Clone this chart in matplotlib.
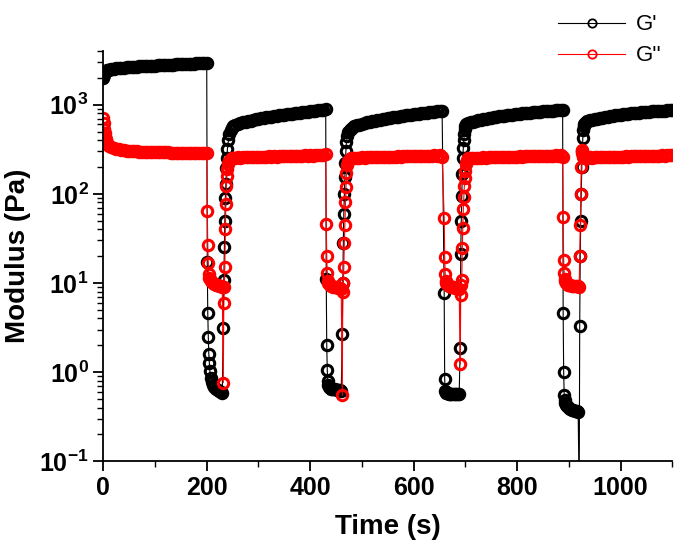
import numpy as np
import matplotlib
matplotlib.use("Agg")
import matplotlib.pyplot as plt
from matplotlib.ticker import FixedLocator, FuncFormatter, LogLocator, NullFormatter

plt.rcParams['font.family'] = ['Liberation Sans', 'DejaVu Sans']
plt.rcParams['mathtext.fontset'] = 'custom'
plt.rcParams['mathtext.rm'] = 'Liberation Sans:bold'
plt.rcParams['mathtext.bf'] = 'Liberation Sans:bold'
plt.rcParams['mathtext.it'] = 'Liberation Sans:bold'

# ---- data (time in s, modulus in Pa) ----
# first recovery (low strain)
t0 = [0, 1, 2, 3, 4, 5, 6, 8, 10, 12, 15, 20, 25, 30, 35, 40, 45, 50, 55, 60,
      65, 70, 75, 80, 85, 90, 95, 100, 105, 110, 115, 120, 125, 130, 135, 140,
      145, 150, 155, 160, 165, 170, 175, 180, 185, 190, 195, 200]
gp0 = [2000, 2150, 2250, 2300, 2350, 2380, 2400, 2430, 2460, 2480, 2500, 2530,
       2560, 2580, 2600, 2615, 2630, 2645, 2660, 2670, 2680, 2690, 2700, 2710,
       2720, 2730, 2740, 2750, 2760, 2770, 2780, 2790, 2800, 2810, 2820, 2830,
       2840, 2850, 2860, 2870, 2880, 2890, 2900, 2910, 2920, 2930, 2940, 2950]
gpp0 = [714, 620, 540, 480, 440, 410, 390, 370, 355, 345, 335, 325, 320, 316,
        312, 309, 306, 304, 302, 300, 299, 298, 297, 296, 295, 294, 294, 293,
        293, 292, 292, 291, 291, 290, 290, 290, 289, 289, 289, 288, 288, 288,
        288, 289, 288, 289, 288, 290]

# high strain steps
tb1 = [201, 202, 203, 204, 205, 206, 208, 210, 212, 215, 218, 221, 224, 227, 230]
gpb1 = [17, 4.6, 2.5, 1.6, 1.26, 1.03, 0.86, 0.78, 0.72, 0.68, 0.65, 0.63, 0.62, 0.6, 0.58]
gppb1 = [65, 27, 16.8, 12.6, 11.5, 11, 10.5, 10.2, 10, 9.8, 9.6, 9.4, 9.3, 9.2, 9.0]

tb2 = [431, 432, 433, 434, 435, 436, 438, 440, 442, 445, 448, 451, 454, 457, 460]
gpb2 = [11, 2.0, 1.05, 0.8, 0.72, 0.68, 0.66, 0.65, 0.65, 0.64, 0.64, 0.63, 0.63, 0.63, 0.62]
gppb2 = [46, 20, 13, 10.5, 10, 9.8, 9.5, 9.3, 9.2, 9.0, 9.0, 8.9, 8.8, 8.7, 8.6]

tb3 = [659, 660, 661, 662, 663, 664, 666, 668, 670, 673, 676, 679, 682, 685, 688]
gpb3 = [7.8, 0.83, 0.62, 0.6, 0.59, 0.58, 0.58, 0.57, 0.57, 0.57, 0.57, 0.57, 0.57, 0.57, 0.57]
gppb3 = [54, 19.5, 12.6, 10.5, 10, 9.8, 9.5, 9.3, 9.2, 9.0, 8.9, 8.8, 8.7, 8.6, 8.5]

tb4 = [889, 890, 891, 892, 893, 894, 896, 898, 900, 903, 906, 909, 912, 915, 918]
gpb4 = [4.6, 1.0, 0.55, 0.48, 0.45, 0.43, 0.42, 0.41, 0.40, 0.39, 0.38, 0.38, 0.37, 0.37, 0.36]
gppb4 = [55, 18, 13, 11, 10.5, 10, 9.8, 9.6, 9.5, 9.4, 9.3, 9.3, 9.2, 9.2, 9.2]

# recoveries
tr1 = [232, 233, 234, 235, 236, 237, 238, 239, 240, 242, 244, 246, 248, 250,
       255, 260, 265, 270, 275, 280, 285, 290, 295, 300, 305, 310, 315, 320,
       325, 330, 335, 340, 345, 350, 355, 360, 365, 370, 375, 380, 385, 390,
       395, 400, 405, 410, 415, 420, 425, 430]
gpr1 = [3.1, 10.7, 25, 49, 90, 130, 195, 255, 320, 400, 470, 520, 555, 575,
        590, 605, 620, 632, 644, 655, 665, 675, 685, 694, 703, 712, 720, 728,
        736, 744, 752, 759, 766, 773, 780, 787, 794, 801, 808, 815, 822, 829,
        836, 843, 850, 857, 864, 871, 880, 895]
gppr1 = [0.76, 6, 9, 15, 40, 76, 123, 160, 190, 215, 235, 245, 250, 252,
         254, 256, 255, 258, 256, 259, 257, 260, 258, 261, 259, 262, 260, 263,
         261, 264, 262, 265, 263, 266, 264, 267, 265, 268, 266, 269, 267, 270,
         268, 271, 269, 272, 270, 273, 271, 280]

tr2 = [462, 463, 464, 465, 466, 467, 468, 469, 470, 472, 474, 476, 478, 480,
       485, 490, 495, 500, 505, 510, 515, 520, 525, 530, 535, 540, 545, 550,
       555, 560, 565, 570, 575, 580, 585, 590, 595, 600, 605, 610, 615, 620,
       625, 630, 635, 640, 645, 650, 655]
gpr2 = [2.7, 10, 28, 60, 100, 155, 220, 300, 380, 440, 490, 520, 540, 555,
        570, 585, 598, 610, 622, 633, 643, 653, 662, 671, 680, 689, 697, 705,
        713, 721, 729, 737, 745, 752, 759, 766, 773, 780, 787, 794, 801, 808,
        815, 822, 829, 836, 843, 850, 860]
gppr2 = [0.55, 8, 10, 15, 28, 45, 80, 120, 170, 210, 235, 245, 250, 252,
         253, 255, 254, 256, 255, 257, 256, 258, 257, 259, 258, 260, 259, 261,
         260, 262, 261, 263, 262, 264, 263, 265, 264, 266, 265, 267, 266, 268,
         267, 269, 268, 270, 269, 271, 262]

tr3 = [690, 691, 692, 693, 694, 695, 696, 697, 698, 699, 700, 702, 704, 706,
       710, 715, 720, 725, 730, 735, 740, 745, 750, 755, 760, 765, 770, 775,
       780, 785, 790, 795, 800, 805, 810, 815, 820, 825, 830, 835, 840, 845,
       850, 855, 860, 865, 870, 875, 880, 885, 888]
gpr3 = [1.87, 21, 50, 95, 167, 252, 330, 400, 470, 540, 580, 600, 615, 625,
        635, 648, 660, 670, 680, 690, 699, 708, 716, 724, 732, 740, 747, 754,
        761, 768, 775, 781, 787, 793, 799, 805, 811, 817, 822, 827, 832, 837,
        842, 847, 852, 856, 860, 864, 868, 872, 875]
gppr3 = [1.23, 7.3, 9.5, 10.8, 24.5, 41, 68, 93, 123, 151, 182, 217, 240, 250,
         252, 254, 253, 255, 254, 256, 255, 257, 256, 258, 257, 259, 258, 260,
         259, 261, 260, 262, 261, 263, 262, 264, 263, 265, 264, 266, 265, 267,
         266, 268, 267, 269, 268, 270, 269, 271, 262]

tr4 = [920, 921, 922, 923, 924, 925, 926, 927, 928, 929, 930, 932, 934, 936,
       938, 940, 945, 950, 955, 960, 965, 970, 975, 980, 985, 990, 995, 1000,
       1005, 1010, 1015, 1020, 1025, 1030, 1035, 1040, 1045, 1050, 1055, 1060,
       1065, 1070, 1075, 1080, 1085, 1090, 1095, 1100]
gpr4 = [0.04, 3.3, 20, 50, 100, 200, 300, 420, 520, 580, 610, 630, 645, 655,
        665, 672, 680, 690, 700, 709, 718, 727, 735, 743, 751, 758, 765, 772,
        779, 786, 792, 798, 804, 810, 815, 820, 825, 830, 835, 840, 844, 848,
        852, 856, 860, 864, 867, 870]
gppr4 = [9.0, 20, 45, 100, 200, 310, 290, 270, 262, 258, 256, 255, 255, 256,
         255, 256, 255, 257, 256, 258, 257, 259, 258, 260, 259, 261, 260, 262,
         261, 263, 262, 264, 263, 265, 264, 266, 265, 267, 266, 268, 267, 269,
         268, 270, 269, 271, 270, 272]

time_s = t0 + tb1 + tr1 + tb2 + tr2 + tb3 + tr3 + tb4 + tr4
g_prime = gp0 + gpb1 + gpr1 + gpb2 + gpr2 + gpb3 + gpr3 + gpb4 + gpr4
g_double = gpp0 + gppb1 + gppr1 + gppb2 + gppr2 + gppb3 + gppr3 + gppb4 + gppr4

fig = plt.figure(figsize=(6.75, 5.55), dpi=100)
ax = fig.add_axes([0.153, 0.169, 0.843, 0.739])

l1, = ax.plot(time_s, g_prime, '-o', color='black', lw=0.8, ms=7.5,
              mfc='none', mec='black', mew=2.2, label="G'")
l2, = ax.plot(time_s, g_double, '-o', color='red', lw=0.8, ms=7.5,
              mfc='none', mec='red', mew=2.2, label="G''")

ax.set_yscale('log')
ax.set_xlim(0, 1100)
ax.set_ylim(0.1, 4000)

ax.xaxis.set_major_locator(FixedLocator([0, 200, 400, 600, 800, 1000]))
ax.xaxis.set_minor_locator(FixedLocator([100, 300, 500, 700, 900, 1100]))
ax.yaxis.set_major_locator(LogLocator(base=10, numticks=10))
ax.yaxis.set_minor_locator(LogLocator(base=10, subs=np.arange(2, 10), numticks=20))
ax.yaxis.set_minor_formatter(NullFormatter())
ax.yaxis.set_major_formatter(FuncFormatter(
    lambda v, p: r'$\mathbf{10^{%d}}$' % int(round(np.log10(v)))))

for s in ['top', 'right']:
    ax.spines[s].set_visible(False)
for s in ['left', 'bottom']:
    ax.spines[s].set_linewidth(1.3)

ax.tick_params(which='major', direction='out', length=7, width=1.3, labelsize=18)
ax.tick_params(which='minor', direction='out', length=4, width=1.0)
for lab in ax.get_xticklabels():
    lab.set_fontweight('bold')

ax.set_xlabel('Time (s)', fontsize=20, fontweight='bold', labelpad=10)
ax.set_ylabel('Modulus (Pa)', fontsize=20, fontweight='bold', labelpad=6)

l1_leg, = plt.plot([], [], '-o', color='black', lw=0.8, ms=6, mfc='none', mew=1.3)
l2_leg, = plt.plot([], [], '-o', color='red', lw=0.8, ms=6, mfc='none', mew=1.3)
fig.legend(handles=[l1_leg, l2_leg], labels=["G'", "G''"], loc='upper right',
           bbox_to_anchor=(1.01, 1.01), frameon=False, fontsize=16,
           handlelength=3, labelspacing=0.45, handletextpad=0.5)

fig.savefig('out.png', dpi=100)
